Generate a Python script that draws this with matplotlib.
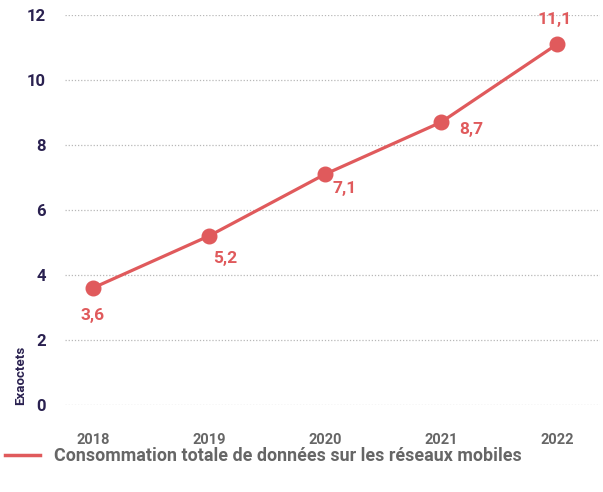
import matplotlib
matplotlib.use("Agg")
import matplotlib.pyplot as plt

years = ["2018", "2019", "2020", "2021", "2022"]
values = [3.6, 5.2, 7.1, 8.7, 11.1]
labels = ["3,6", "5,2", "7,1", "8,7", "11,1"]
yticks = [0, 2, 4, 6, 8, 10, 12]

red = "#E05A5C"
navy = "#2A2150"
grey = "#666666"

plt.rcParams["font.family"] = ["Roboto", "DejaVu Sans"]

fig = plt.figure(figsize=(6.03, 4.92), dpi=100)
ax = fig.add_axes([0.108, 0.177, 0.887, 0.7925])

x = list(range(len(years)))
ax.plot(x, values, color=red, lw=2.3, marker="o", ms=10.5, clip_on=False, zorder=3)

# label offsets in points (dx, dy)
offsets = [(0, -20), (12, -16), (14, -10), (22, -5), (-2, 18)]
for xi, v, lab, (dx, dy) in zip(x, values, labels, offsets):
    ax.annotate(lab, (xi, v), xytext=(dx, dy), textcoords="offset points",
                ha="center", va="center", color=red, fontsize=12.5, fontweight="bold")

ax.set_xlim(-0.24, 4.37)
ax.set_ylim(0, 12)
ax.set_yticks(yticks)
ax.set_yticklabels([str(t) for t in yticks], color=navy, fontsize=12, fontweight="bold")
ax.set_xticks(x)
ax.set_xticklabels(years, color=grey, fontsize=10.5, fontweight="bold")
ax.tick_params(axis="y", length=0, pad=14)
ax.tick_params(axis="x", length=0, pad=20)
ax.grid(axis="y", color="#b8b8b8", lw=0.9, ls=(0, (1, 1.5)))
ax.set_axisbelow(True)
for s in ax.spines.values():
    s.set_visible(False)

fig.text(0.035, 0.238, "Exaoctets", rotation=90, ha="center", va="center",
         color=navy, fontsize=9.5, fontweight="bold")

# legend
fig.lines.append(plt.Line2D([0.008, 0.067], [0.075, 0.075], color=red, lw=2.5,
                            transform=fig.transFigure))
fig.text(0.09, 0.073, "Consommation totale de données sur les réseaux mobiles",
         ha="left", va="center", color=grey, fontsize=12.9, fontweight="bold")

fig.savefig("out.png", dpi=100)
